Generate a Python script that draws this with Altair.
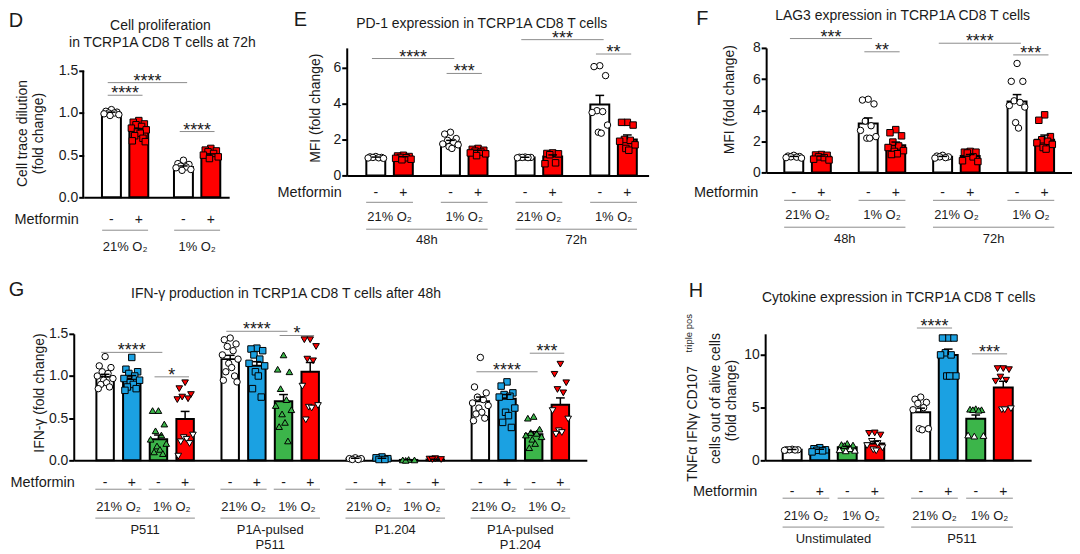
import altair as alt
import pandas as pd

FONT = "Liberation Sans"
INK = "#1a1a1a"
GRAY = "#8c8c8c"
WHITE, RED, BLUE, GREEN = "#ffffff", "#ff0000", "#1ba1e2", "#3cb54a"

# ======================= DATA =======================
# ---- D: cell proliferation (bars: 21% -, 21% +, 1% -, 1% +)
D_means = [1.00, 0.79, 0.36, 0.50]
D_sems = [0.01, 0.025, 0.012, 0.015]
D_filled = [
    [1.04, 1.02, 1.01, 1.00, 1.00, 0.99, 0.98, 0.97],
    [0.91, 0.89, 0.87, 0.86, 0.84, 0.82, 0.80, 0.78, 0.76, 0.73, 0.70, 0.67, 0.66],
    [0.44, 0.40, 0.39, 0.37, 0.36, 0.35, 0.33, 0.32],
    [0.58, 0.56, 0.55, 0.54, 0.52, 0.50, 0.48, 0.46],
]
D_open = [[], [], [], []]
D_pairs = ["21% O₂", "1% O₂"]
D_brackets = [(0, 2, 1.36, "****"), (0, 1, 1.21, "****"), (2, 3, 0.78, "****")]

# ---- E: PD-1 MFI (48h: 21%-,21%+,1%-,1%+ ; 72h: same)
E_means = [1.00, 1.00, 1.85, 1.35, 1.00, 1.05, 3.95, 2.00]
E_sems = [0.02, 0.04, 0.10, 0.05, 0.01, 0.09, 0.50, 0.25]
E_filled = [
    [1.05, 1.03, 1.00, 1.00, 0.98, 0.97, 0.95],
    [1.12, 1.08, 1.05, 1.00, 0.98, 0.95, 0.90, 0.87],
    [2.40, 2.30, 2.05, 1.95, 1.85, 1.75, 1.70, 1.60, 1.50],
    [1.50, 1.45, 1.40, 1.35, 1.30, 1.25, 1.20, 1.10],
    [1.02, 1.01, 1.00, 1.00, 0.99, 0.98],
    [1.25, 1.22, 1.20, 1.15, 0.70, 0.65],
    [6.10, 6.05, 5.55, 3.60, 3.55, 3.50, 2.80, 2.40, 2.35],
    [2.95, 2.95, 2.80, 2.00, 1.95, 1.90, 1.70, 1.50, 1.40],
]
E_open = [[] for _ in range(8)]
E_pairs = ["21% O₂", "1% O₂", "21% O₂", "1% O₂"]
E_groups = ["48h", "72h"]
E_brackets = [(0, 2, 6.5, "****"), (2, 3, 5.67, "***"), (4, 6, 7.55, "***"), (6, 7, 6.75, "**")]

# ---- F: LAG3 MFI
F_means = [1.00, 1.00, 3.15, 1.75, 1.00, 1.05, 4.55, 2.10]
F_sems = [0.03, 0.05, 0.35, 0.20, 0.03, 0.10, 0.45, 0.30]
F_filled = [
    [1.10, 1.05, 1.02, 1.00, 0.98, 0.95, 0.92],
    [1.15, 1.12, 1.10, 1.00, 0.95, 0.85, 0.80],
    [4.70, 4.65, 4.40, 3.30, 3.00, 2.70, 2.30, 2.20, 2.20],
    [2.75, 2.55, 2.35, 1.95, 1.70, 1.60, 1.40, 1.35, 1.20, 1.15],
    [1.10, 1.05, 1.00, 1.00, 0.95, 0.92],
    [1.35, 1.30, 1.30, 1.25, 1.00, 0.75, 0.70],
    [7.00, 5.85, 5.85, 4.60, 4.50, 4.30, 4.20, 3.20, 2.85],
    [3.70, 3.35, 2.30, 2.10, 2.00, 1.90, 1.80, 1.60, 1.50],
]
F_open = [[] for _ in range(8)]
F_pairs = ["21% O₂", "1% O₂", "21% O₂", "1% O₂"]
F_groups = ["48h", "72h"]
F_brackets = [(0, 2, 8.6, "***"), (2, 3, 7.75, "**"), (4, 6, 8.3, "****"), (6, 7, 7.55, "***")]

# ---- G: IFN-g (4 target groups x [21%-,21%+,1%-,1%+])
G_means = [0.99, 0.97, 0.25, 0.49, 1.20, 1.12, 0.70, 1.05,
           0.02, 0.02, 0.005, 0.01, 0.70, 0.73, 0.31, 0.66]
G_sems = [0.03, 0.035, 0.05, 0.09, 0.045, 0.05, 0.08, 0.11,
          0.005, 0.005, 0.002, 0.003, 0.05, 0.05, 0.03, 0.08]
G_filled = [
    [1.23, 1.12, 1.10, 1.05, 1.03, 1.00, 0.97, 0.95, 0.92, 0.90, 0.87, 0.85],
    [1.22, 1.08, 1.05, 1.03, 1.00, 0.97, 0.95, 0.92, 0.90, 0.87, 0.85, 0.83],
    [0.59, 0.59, 0.43, 0.35, 0.30, 0.25, 0.20, 0.17, 0.13, 0.10, 0.08],
    [0.92, 0.85, 0.78, 0.75, 0.73, 0.72],
    [1.45, 1.43, 1.38, 1.35, 1.30, 1.25, 1.20, 1.15, 1.10, 1.05, 1.00, 0.95, 0.93],
    [1.33, 1.32, 1.30, 1.25, 1.20, 1.15, 1.12, 1.05, 1.00, 0.85, 0.75],
    [1.25, 1.08, 1.05, 0.85, 0.72, 0.65, 0.60, 0.55, 0.45, 0.40, 0.23],
    [1.43, 1.43, 1.35, 1.20, 1.18],
    [0.03, 0.02, 0.02, 0.01, 0.01],
    [0.04, 0.03, 0.02, 0.01, 0.01],
    [0.01, 0.005, 0.005, 0.0],
    [0.02, 0.015, 0.01, 0.01],
    [1.22, 0.87, 0.80, 0.75, 0.72, 0.68, 0.65, 0.62, 0.57, 0.55, 0.50, 0.47],
    [0.93, 0.88, 0.80, 0.78, 0.76, 0.75, 0.62, 0.57, 0.53, 0.45, 0.39],
    [0.52, 0.50, 0.37, 0.33, 0.32, 0.30, 0.28, 0.25, 0.20, 0.15],
    [1.14, 1.02, 0.92, 0.84, 0.80],
]
G_open = [[], [], [], [0.30, 0.27, 0.25, 0.22, 0.20, 0.05],
          [], [], [], [0.88, 0.65, 0.63, 0.62, 0.48],
          [], [], [], [],
          [], [], [], [0.59, 0.49, 0.35, 0.33, 0.31]]
G_pairs = ["21% O₂", "1% O₂"] * 4
G_groups = [("P511", ""), ("P1A-pulsed", "P511"), ("P1.204", ""), ("P1A-pulsed", "P1.204")]
G_brackets = [(0, 2, 1.28, "****"), (2, 3, 0.99, "*"), (4, 6, 1.53, "****"),
              (6, 7, 1.48, "*"), (12, 14, 1.05, "****"), (14, 15, 1.27, "***")]

# ---- H: triple-positive cytokine cells
H_means = [1.00, 1.00, 1.25, 1.60, 4.55, 10.0, 3.95, 6.90]
H_sems = [0.03, 0.05, 0.08, 0.20, 0.40, 0.55, 0.35, 0.60]
H_filled = [
    [1.05, 1.00, 1.00, 1.00, 0.98, 0.95],
    [1.20, 1.10, 1.00, 0.95, 0.90, 0.80],
    [1.60, 1.50, 1.45, 1.40],
    [2.60, 2.55, 2.40],
    [6.00, 5.80, 5.50, 5.40, 5.00, 4.80, 3.00, 3.00, 2.90],
    [11.6, 11.6, 11.6, 10.2, 10.0, 10.0, 8.0, 8.0, 8.0],
    [4.90, 4.85, 4.80, 4.80, 4.75],
    [8.70, 8.70, 8.60, 7.90, 7.60, 7.50],
]
H_open = [[], [], [1.10, 1.00, 0.95, 0.90], [1.80, 1.60, 1.40, 1.20, 1.00, 0.90],
          [], [], [2.40, 2.35, 2.30], [4.90, 4.80, 4.80]]
H_pairs = ["21% O₂", "1% O₂"] * 2
H_groups = [("Unstimulated", ""), ("P511", "")]
H_brackets = [(4, 5, 12.55, "****"), (6, 7, 10.1, "***")]

# ======================= HELPERS =======================
OFFS_PX = [0, -6, 6, -3, 3, -8, 8, -1.5, 1.5, -4.5, 4.5, -7, 7]
SIZES = {"circle": 42, "square": 42, "triangle-up": 44, "triangle-down": 44}
ONE = pd.DataFrame({"k": [0]})


def label(text, x, y, size=14, angle=0, align="center", color=INK):
    return alt.Chart(ONE).mark_text(
        text=text, font=FONT, fontSize=size, angle=angle, align=align,
        baseline="middle", color=color
    ).encode(x=alt.value(x), y=alt.value(y))


def build_panel(P):
    pps, first, width, height = P["pps"], P["first"], P["width"], P["height"]
    xmin = -first / pps
    xmax = xmin + width / pps
    xs = alt.Scale(domain=[xmin, xmax], nice=False, zero=False)
    ys = alt.Scale(domain=[0, P["ymax"]], nice=False, zero=False)
    pos = P["pos"]
    n = len(pos)
    cap = 4.5 / pps
    bars_df = pd.DataFrame({
        "pos": pos, "mean": P["means"],
        "top": [m + s for m, s in zip(P["means"], P["sems"])],
        "fill": P["colors"],
        "capl": [p - cap for p in pos], "capr": [p + cap for p in pos]})
    rows = []
    for i in range(n):
        vals = [(v, P["colors"][i]) for v in P["filled"][i]] + [(v, WHITE) for v in P["open"][i]]
        vals.sort(key=lambda t: -t[0])
        for k, (v, f) in enumerate(vals):
            rows.append({"px": pos[i] + OFFS_PX[k % len(OFFS_PX)] / pps, "v": v, "fill": f,
                         "shape": P["shapes"][i], "sz": SIZES[P["shapes"][i]]})
    pts_df = pd.DataFrame(rows)

    yaxis = alt.Axis(values=P["yticks"], format=P["yfmt"], domain=P["manual_top"] is None,
                     domainWidth=2, domainColor="black", ticks=True, tickWidth=2, tickSize=5,
                     tickColor="black", labelFont=FONT, labelFontSize=14, labelColor=INK,
                     labelPadding=1, grid=False, title=None)
    xaxis = alt.Axis(domain=True, domainColor="black", domainWidth=2, ticks=False,
                     labels=False, grid=False, title=None)

    X = lambda f: alt.X(f, scale=xs, axis=xaxis, title=None)
    Y = lambda f: alt.Y(f, scale=ys, axis=yaxis, title=None)

    bars = alt.Chart(bars_df).mark_bar(size=P["bw"], stroke="black", strokeWidth=2).encode(
        x=X("pos:Q"), y=Y("mean:Q"), fill=alt.Fill("fill:N", scale=None))
    pts = alt.Chart(pts_df).mark_point(filled=True, stroke="black", strokeWidth=1,
                                       opacity=1, fillOpacity=1).encode(
        x=X("px:Q"), y=Y("v:Q"),
        shape=alt.Shape("shape:N", scale=None), fill=alt.Fill("fill:N", scale=None),
        size=alt.Size("sz:Q", scale=None))
    err = alt.Chart(bars_df).mark_rule(color="black", strokeWidth=1.5).encode(
        x=X("pos:Q"), y=Y("mean:Q"), y2="top:Q")
    caps = alt.Chart(bars_df).mark_rule(color="black", strokeWidth=1.5).encode(
        x=X("capl:Q"), x2="capr:Q", y=Y("top:Q"))

    ext = 4 / pps
    br_df = pd.DataFrame([{"x1": pos[i] - ext, "x2": pos[j] + ext, "xm": (pos[i] + pos[j]) / 2,
                           "y": y, "label": lab} for i, j, y, lab in P["brackets"]])
    br_rule = alt.Chart(br_df).mark_rule(color=GRAY, strokeWidth=1).encode(
        x=X("x1:Q"), x2="x2:Q", y=Y("y:Q"))
    br_text = alt.Chart(br_df).mark_text(font=FONT, fontSize=18, baseline="middle", dy=-1,
                                         color=INK).encode(x=X("xm:Q"), y=Y("y:Q"), text="label:N")

    o = P["offs"]
    sign_df = pd.DataFrame({"pos": pos, "sign": ["-" if k % 2 == 0 else "+" for k in range(n)]})
    signs = alt.Chart(sign_df).mark_text(font=FONT, fontSize=14, baseline="middle", color=INK).encode(
        x=X("pos:Q"), y=alt.value(height + o[0]), text="sign:N")
    lx = 10 / pps
    pair_df = pd.DataFrame([{"x1": pos[2 * k] - lx, "x2": pos[2 * k + 1] + lx,
                             "xm": (pos[2 * k] + pos[2 * k + 1]) / 2, "label": lab}
                            for k, lab in enumerate(P["pairs"])])
    pair_rule = alt.Chart(pair_df).mark_rule(color=GRAY, strokeWidth=1).encode(
        x=X("x1:Q"), x2="x2:Q", y=alt.value(height + o[1]))
    pair_text = alt.Chart(pair_df).mark_text(font=FONT, fontSize=13, baseline="middle", color=INK).encode(
        x=X("xm:Q"), y=alt.value(height + o[2]), text="label:N")
    layers = [bars, pts, err, caps, br_rule, br_text, signs, pair_rule, pair_text]

    if P.get("groups"):
        per = n // len(P["groups"])
        g_df = pd.DataFrame([{"x1": pos[k * per] - lx, "x2": pos[k * per + per - 1] + lx,
                              "xm": (pos[k * per] + pos[k * per + per - 1]) / 2,
                              "l1": g[0], "l2": g[1]} for k, g in enumerate(P["groups"])])
        layers.append(alt.Chart(g_df).mark_rule(color=GRAY, strokeWidth=1).encode(
            x=X("x1:Q"), x2="x2:Q", y=alt.value(height + o[3])))
        layers.append(alt.Chart(g_df).mark_text(font=FONT, fontSize=13, baseline="middle", color=INK).encode(
            x=X("xm:Q"), y=alt.value(height + o[4]), text="l1:N"))
        layers.append(alt.Chart(g_df).mark_text(font=FONT, fontSize=13, baseline="middle", color=INK).encode(
            x=X("xm:Q"), y=alt.value(height + o[4] + 15), text="l2:N"))

    if P["manual_top"] is not None:
        ax_df = pd.DataFrame({"y0": [0.0], "y1": [P["manual_top"]]})
        layers.append(alt.Chart(ax_df).mark_rule(color="black", strokeWidth=2).encode(
            x=alt.value(-0.5), y=Y("y0:Q"), y2="y1:Q"))

    layers.append(label("Metformin", P["met_x"], height + o[0], size=14.5, align="right"))
    for t in P["texts"]:
        layers.append(label(*t))
    return alt.layer(*layers).properties(width=width, height=height)


def positions(n_groups, per_group, step):
    return [g * step + b for g in range(n_groups) for b in range(per_group)]


TITLE = 14
LET = 20

D = build_panel(dict(
    means=D_means, sems=D_sems, filled=D_filled, open=D_open,
    colors=[WHITE, RED] * 2, shapes=["circle", "square"] * 2,
    pos=positions(2, 2, 2.63), pps=29.5, first=24.5, width=146, height=150, bw=19,
    ymax=150 / 84.67, yticks=[0, 0.5, 1.0, 1.5], yfmt=".1f", manual_top=1.5,
    brackets=D_brackets, pairs=D_pairs, offs=[23, 33, 50], met_x=-5,
    texts=[("D", -68, -26.5, LET), ("Cell proliferation", 77, -22, TITLE),
           ("in TCRP1A CD8 T cells at 72h", 79, -5, TITLE),
           ("Cell trace dilution", -61, 86, 14, 270), ("(fold change)", -45, 86, 14, 270)]))

E = build_panel(dict(
    means=E_means, sems=E_sems, filled=E_filled, open=E_open,
    colors=[WHITE, RED] * 4, shapes=["circle", "square"] * 4,
    pos=positions(4, 2, 2.71), pps=28.6, first=25, width=303, height=128, bw=19,
    ymax=128 / 18.05, yticks=[0, 2, 4, 6], yfmt="d", manual_top=None,
    brackets=E_brackets, pairs=E_pairs, groups=[(g, "") for g in E_groups],
    offs=[18, 27, 42, 54, 65], met_x=-5,
    texts=[("E", -46.5, -28, LET), ("PD-1 expression in TCRP1A CD8 T cells", 135.5, -24, TITLE),
           ("MFI (fold change)", -31, 60.5, 14, 270)]))

F = build_panel(dict(
    means=F_means, sems=F_sems, filled=F_filled, open=F_open,
    colors=[WHITE, RED] * 4, shapes=["circle", "square"] * 4,
    pos=positions(4, 2, 2.70), pps=28.6, first=23.5, width=307, height=125, bw=19,
    ymax=8, yticks=[0, 2, 4, 6, 8], yfmt="d", manual_top=None,
    brackets=F_brackets, pairs=F_pairs, groups=[(g, "") for g in F_groups],
    offs=[21, 28, 43, 55, 67], met_x=-8,
    texts=[("F", -64, -28.5, LET), ("LAG3 expression in TCRP1A CD8 T cells", 137, -32, TITLE),
           ("MFI (fold change)", -36, 52, 14, 270)]))

G = build_panel(dict(
    means=G_means, sems=G_sems, filled=G_filled, open=G_open,
    colors=[WHITE, BLUE, GREEN, RED] * 4,
    shapes=["circle", "square", "triangle-up", "triangle-down"] * 4,
    pos=positions(4, 4, 4.69), pps=27.3, first=27, width=515, height=127, bw=17.5,
    ymax=1.5, yticks=[0, 0.5, 1.0, 1.5], yfmt=".1f", manual_top=None,
    brackets=G_brackets, pairs=G_pairs, groups=G_groups,
    offs=[23, 29, 47, 58, 70], met_x=1,
    texts=[("G", -57.5, -43.5, LET),
           ("IFN-γ production in TCRP1A CD8 T cells after 48h", 213, -40, TITLE),
           ("IFN-γ (fold change)", -34, 59.5, 14, 270)]))

H = build_panel(dict(
    means=H_means, sems=H_sems, filled=H_filled, open=H_open,
    colors=[WHITE, BLUE, GREEN, RED] * 2,
    shapes=["circle", "square", "triangle-up", "triangle-down"] * 2,
    pos=positions(2, 4, 4.67), pps=28.7, first=23, width=267, height=127, bw=19,
    ymax=12, yticks=[0, 5, 10], yfmt="d", manual_top=None,
    brackets=H_brackets, pairs=H_pairs, groups=H_groups,
    offs=[32, 38, 56, 67, 79], met_x=-8,
    texts=[("H", -69.5, -43, LET), ("Cytokine expression in TCRP1A CD8 T cells", 134, -36, TITLE),
           ("TNFα IFNγ CD107", -72, 90.5, 14, 270), ("triple pos", -76, -0.5, 9.5, 270),
           ("cells out of alive cells", -49, 65, 14, 270), ("(fold change)", -33, 67, 14, 270)]))

# invisible 1px spacer: shifts the top row 10px right of the bottom row
spacer = alt.Chart(ONE).mark_point(opacity=0).encode(
    x=alt.value(0), y=alt.value(0)).properties(width=1, height=1)

top_inner = alt.hconcat(D, E, F, spacing=118, bounds="flush")
top = alt.hconcat(spacer, top_inner, spacing=9, bounds="flush")
bottom = alt.hconcat(G, H, spacing=179, bounds="flush")

chart = alt.vconcat(top, bottom, spacing=18).properties(
    padding={"left": 0, "top": 0, "right": 0, "bottom": 0}, background="white"
).configure_view(strokeWidth=0, stroke=None)

chart.save("out.html", embed_options={"renderer": "svg", "actions": False})
